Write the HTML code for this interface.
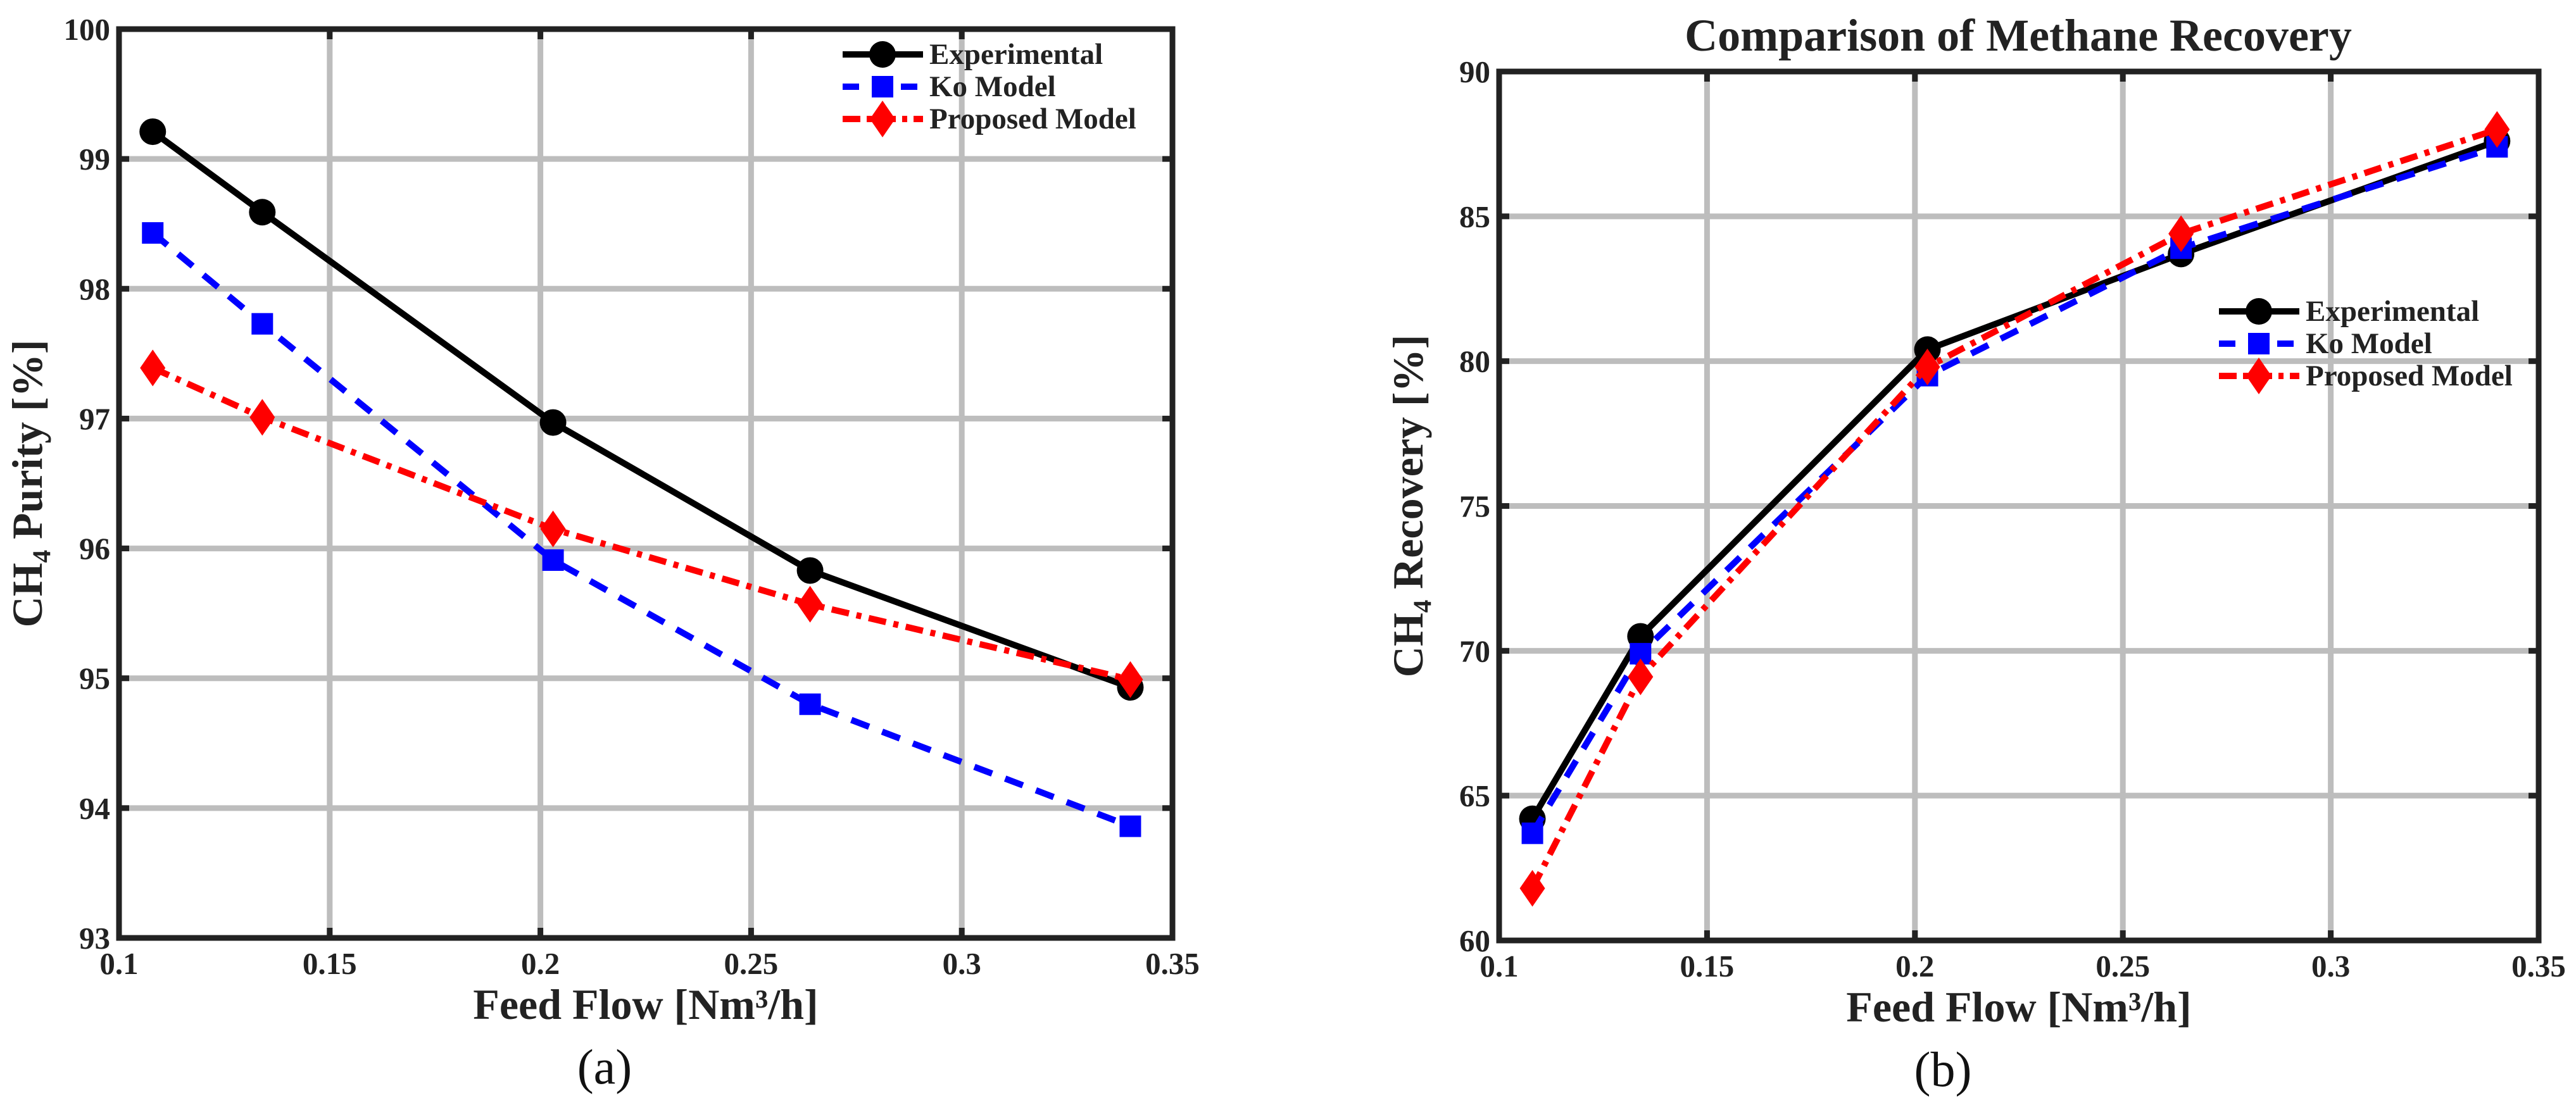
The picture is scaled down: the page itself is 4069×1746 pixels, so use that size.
<!DOCTYPE html>
<html><head><meta charset="utf-8"><style>
html,body{margin:0;padding:0;background:#fff;}
svg{display:block;font-family:"Liberation Serif",serif;}
</style></head><body>
<svg id="fig" width="4069" height="1746" viewBox="0 0 4069 1746" xmlns="http://www.w3.org/2000/svg"></svg>
<script>
const xFlow = [0.108, 0.134, 0.203, 0.264, 0.340];
const xTicks = [0.1, 0.15, 0.2, 0.25, 0.3, 0.35];
const xTickLabels = ["0.1","0.15","0.2","0.25","0.3","0.35"];
const purityExp = [99.21, 98.59, 96.97, 95.83, 94.93];
const purityKo = [98.43, 97.73, 95.91, 94.80, 93.86];
const purityProp = [97.39, 97.01, 96.15, 95.57, 94.99];
const purityTicks = [93, 94, 95, 96, 97, 98, 99, 100];
const recovExp = [64.2, 70.5, 80.4, 83.7, 87.6];
const recovKo = [63.7, 69.9, 79.5, 83.9, 87.4];
const recovProp = [61.8, 69.1, 79.8, 84.4, 88.0];
const recovTicks = [60, 65, 70, 75, 80, 85, 90];
const seriesNames = ["Experimental", "Ko Model", "Proposed Model"];

const NS = "http://www.w3.org/2000/svg";
const svg = document.getElementById("fig");
function mk(tag, attrs, parent) {
  const e = document.createElementNS(NS, tag);
  for (const k in attrs) e.setAttribute(k, attrs[k]);
  (parent || svg).appendChild(e);
  return e;
}
function txt(s, attrs, parent) { const t = mk("text", attrs, parent); t.textContent = s; return t; }

function marker(g, kind, cx, cy) {
  let m;
  if (kind === 0) m = mk("circle", {cx: cx, cy: cy, r: 21, fill: "#000"}, g);
  else if (kind === 1) m = mk("rect", {x: cx - 17, y: cy - 17, width: 34, height: 34, fill: "#0000ff"}, g);
  else m = mk("polygon", {points: `${cx},${cy-29} ${cx+20},${cy} ${cx},${cy+29} ${cx-20},${cy}`, fill: "#ff0000"}, g);
  return m;
}
const styles = [
  {stroke: "#000", dash: null},
  {stroke: "#0000ff", dash: "30 22"},
  {stroke: "#ff0000", dash: "28 12 8 12"}
];

function panel(cfg) {
  const g = mk("g", {});
  
  
  const X = v => cfg.L + (v - 0.1) / 0.25 * (cfg.R - cfg.L);
  const Y = v => cfg.B - (v - cfg.ymin) / (cfg.ymax - cfg.ymin) * (cfg.B - cfg.T);
  xTicks.forEach(t => {
    const l = mk("line", {x1: X(t), x2: X(t), y1: cfg.T, y2: cfg.B, stroke: "#bdbdbd", "stroke-width": 9}, g);
    
    
  });
  cfg.yTicks.forEach(t => {
    const l = mk("line", {x1: cfg.L, x2: cfg.R, y1: Y(t), y2: Y(t), stroke: "#bdbdbd", "stroke-width": 9}, g);
    
    
  });
  xTicks.forEach(t => {
    mk("line", {x1: X(t), x2: X(t), y1: cfg.B, y2: cfg.B - 16, stroke: "#222", "stroke-width": 9}, g);
    mk("line", {x1: X(t), x2: X(t), y1: cfg.T, y2: cfg.T + 16, stroke: "#222", "stroke-width": 9}, g);
  });
  cfg.yTicks.forEach(t => {
    mk("line", {x1: cfg.L, x2: cfg.L + 16, y1: Y(t), y2: Y(t), stroke: "#222", "stroke-width": 9}, g);
    mk("line", {x1: cfg.R, x2: cfg.R - 16, y1: Y(t), y2: Y(t), stroke: "#222", "stroke-width": 9}, g);
  });
  cfg.series.forEach((vals, si) => {
    const sg = mk("g", {}, g);
    
    
    const pts = vals.map((v, i) => X(xFlow[i]) + "," + Y(v)).join(" ");
    const pl = mk("polyline", {points: pts, fill: "none", stroke: styles[si].stroke, "stroke-width": 10, "stroke-linejoin": "round"}, sg);
    if (styles[si].dash) pl.setAttribute("stroke-dasharray", styles[si].dash);
    
    
    vals.forEach((v, i) => {
      const m = marker(sg, si, X(xFlow[i]), Y(v));
      
      
    });
  });
  const fr = mk("rect", {x: cfg.L, y: cfg.T, width: cfg.R - cfg.L, height: cfg.B - cfg.T, fill: "none", stroke: "#222", "stroke-width": 9}, g);
  
  
  xTicks.forEach((t, i) => {
    const e = txt(xTickLabels[i], {x: X(t), y: cfg.B + 57, "font-size": 49, "font-weight": "bold", fill: "#222", "text-anchor": "middle"}, g);
    
    
  });
  cfg.yTicks.forEach(t => {
    const e = txt(String(t), {x: cfg.L - 14, y: Y(t) + 17, "font-size": 49, "font-weight": "bold", fill: "#222", "text-anchor": "end"}, g);
    
    
  });
  const xt = txt("Feed Flow [Nm³/h]", {x: (cfg.L + cfg.R) / 2, y: cfg.B + 128, "font-size": 68, "font-weight": "bold", fill: "#222", "text-anchor": "middle"}, g);
  
  
  const yc = (cfg.T + cfg.B) / 2;
  const yt = txt("", {x: cfg.ytx, y: yc, "font-size": 68, "font-weight": "bold", fill: "#222", "text-anchor": "middle", transform: `rotate(-90 ${cfg.ytx} ${yc})`}, g);
  yt.textContent = cfg.ytitle;
  
  
  const pl = txt(cfg.label, {x: (cfg.L + cfg.R) / 2 + cfg.labOff, y: cfg.B + 230, "font-size": 78, fill: "#111", "text-anchor": "middle"}, g);
  
  
  const lg = mk("g", {}, g);
  
  
  seriesNames.forEach((n, si) => {
    const ly = cfg.legY + si * 51;
    const le = mk("g", {}, lg);
    
    
    const l = mk("line", {x1: cfg.legX, x2: cfg.legX + 127, y1: ly, y2: ly, stroke: styles[si].stroke, "stroke-width": 10}, le);
    if (styles[si].dash) l.setAttribute("stroke-dasharray", si === 1 ? "26 20" : "28 10 8 10");
    marker(le, si, cfg.legX + 63, ly);
    txt(n, {x: cfg.legX + 137, y: ly + 15, "font-size": 47, "font-weight": "bold", fill: "#222"}, le);
  });
}

panel({name: "purity-chart", L: 188, R: 1852, T: 46, B: 1482, ymin: 93, ymax: 100, yTicks: purityTicks,
  series: [purityExp, purityKo, purityProp], ytitle: "CH₄ Purity [%]", ytx: 66, label: "(a)", labOff: -65,
  legX: 1331, legY: 86});
panel({name: "recovery-chart", L: 2368, R: 4010, T: 113, B: 1486, ymin: 60, ymax: 90, yTicks: recovTicks,
  series: [recovExp, recovKo, recovProp], ytitle: "CH₄ Recovery [%]", ytx: 2247, label: "(b)", labOff: -120,
  legX: 3505, legY: 492});
const tt = txt("Comparison of Methane Recovery", {x: 3188, y: 80, "font-size": 72, "font-weight": "bold", fill: "#222", "text-anchor": "middle"});


</script>
</body></html>
